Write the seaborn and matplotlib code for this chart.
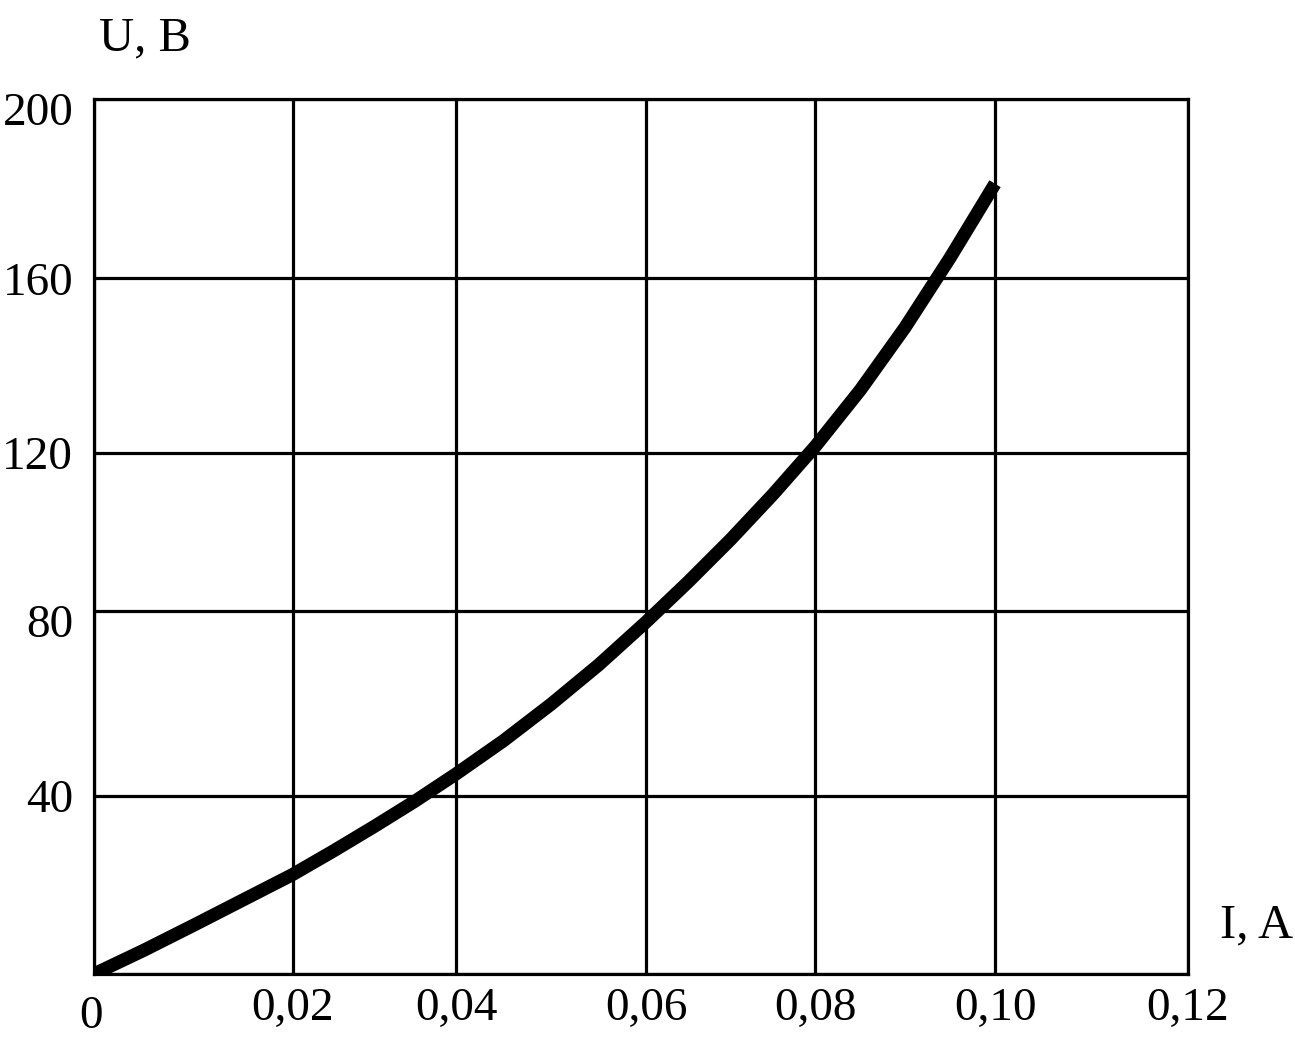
# Current-voltage characteristic, U(I)
import numpy as np
import matplotlib
matplotlib.use("Agg")
import matplotlib.pyplot as plt
import matplotlib.transforms as mtransforms
import seaborn as sns

# data
current_a = [0.0, 0.005, 0.01, 0.015, 0.02, 0.025, 0.03, 0.035, 0.04, 0.045, 0.05,
             0.055, 0.06, 0.065, 0.07, 0.075, 0.08, 0.085, 0.09, 0.095, 0.10]
voltage_v = [0.0, 5.3, 10.9, 16.6, 22.3, 27.6, 33.1, 38.8, 44.7, 51.9, 59.8,
             68.3, 77.6, 87.4, 98.1, 109.5, 121.5, 134.4, 148.8, 164.6, 181.1]

x_ticks = [0.0, 0.02, 0.04, 0.06, 0.08, 0.10, 0.12]
x_tick_labels = ["0", "0,02", "0,04", "0,06", "0,08", "0,10", "0,12"]
y_ticks = [0, 40, 80, 120, 160, 200]
y_tick_labels = ["", "40", "80", "120", "160", "200"]

# the original grid is hand drawn, cells are not equal -> piecewise linear scales
x_grid_frac = [0.0, 0.1815, 0.3309, 0.5046, 0.6595, 0.8236, 1.0]
y_grid_frac = [0.0, 0.2038, 0.4149, 0.5958, 0.7951, 1.0]


def make_scale(vals, fracs):
    vals = np.asarray(vals, float)
    fracs = np.asarray(fracs, float)

    def fwd(v):
        v = np.asarray(v, float)
        out = np.interp(v, vals, fracs)
        lo = v < vals[0]
        hi = v > vals[-1]
        out = np.where(lo, fracs[0] + (v - vals[0]) * (fracs[1] - fracs[0]) / (vals[1] - vals[0]), out)
        out = np.where(hi, fracs[-1] + (v - vals[-1]) * (fracs[-1] - fracs[-2]) / (vals[-1] - vals[-2]), out)
        return out

    def inv(f):
        f = np.asarray(f, float)
        out = np.interp(f, fracs, vals)
        lo = f < fracs[0]
        hi = f > fracs[-1]
        out = np.where(lo, vals[0] + (f - fracs[0]) * (vals[1] - vals[0]) / (fracs[1] - fracs[0]), out)
        out = np.where(hi, vals[-1] + (f - fracs[-1]) * (vals[-1] - vals[-2]) / (fracs[-1] - fracs[-2]), out)
        return out

    return fwd, inv


sns.set_style("white")
plt.rcParams["font.family"] = ["Liberation Serif", "DejaVu Serif"]
plt.rcParams["text.color"] = "black"

fig = plt.figure(figsize=(12.95, 10.47), dpi=100)
ax = fig.add_axes([94 / 1295, 73 / 1047, 1094 / 1295, 875 / 1047])

ax.set_xscale("function", functions=make_scale(x_ticks, x_grid_frac))
ax.set_yscale("function", functions=make_scale(y_ticks, y_grid_frac))

sns.lineplot(x=current_a, y=voltage_v, ax=ax, color="black", linewidth=9.5,
             solid_capstyle="butt", solid_joinstyle="round", zorder=3)

ax.set_xlim(0, 0.12)
ax.set_ylim(0, 200)
ax.set_xticks(x_ticks)
ax.set_xticklabels(x_tick_labels)
ax.set_yticks(y_ticks)
ax.set_yticklabels(y_tick_labels)
ax.tick_params(axis="both", length=0, labelsize=34, colors="black")
ax.tick_params(axis="x", pad=10)
ax.tick_params(axis="y", pad=15)

ax.grid(True, color="black", linewidth=2.3)
for sp in ax.spines.values():
    sp.set_visible(True)
    sp.set_color("black")
    sp.set_linewidth(2.3)

ax.set_xlabel("")
ax.set_ylabel("")

# small label shifts as in the original drawing
xlabs = ax.get_xticklabels()
xlabs[0].set_transform(mtransforms.offset_copy(xlabs[0].get_transform(), fig=fig, x=-3, y=-8, units="dots"))
ylabs = ax.get_yticklabels()
for i in (2, 5):
    ylabs[i].set_transform(mtransforms.offset_copy(ylabs[i].get_transform(), fig=fig, y=-10, units="dots"))

fig.text(145 / 1295, 1 - 38 / 1047, "U, B", fontsize=35, ha="center", va="center", color="black")
fig.text(1257 / 1295, 1 - 925 / 1047, "I, A", fontsize=35, ha="center", va="center", color="black")

fig.savefig("out.png", dpi=100, facecolor="white")
